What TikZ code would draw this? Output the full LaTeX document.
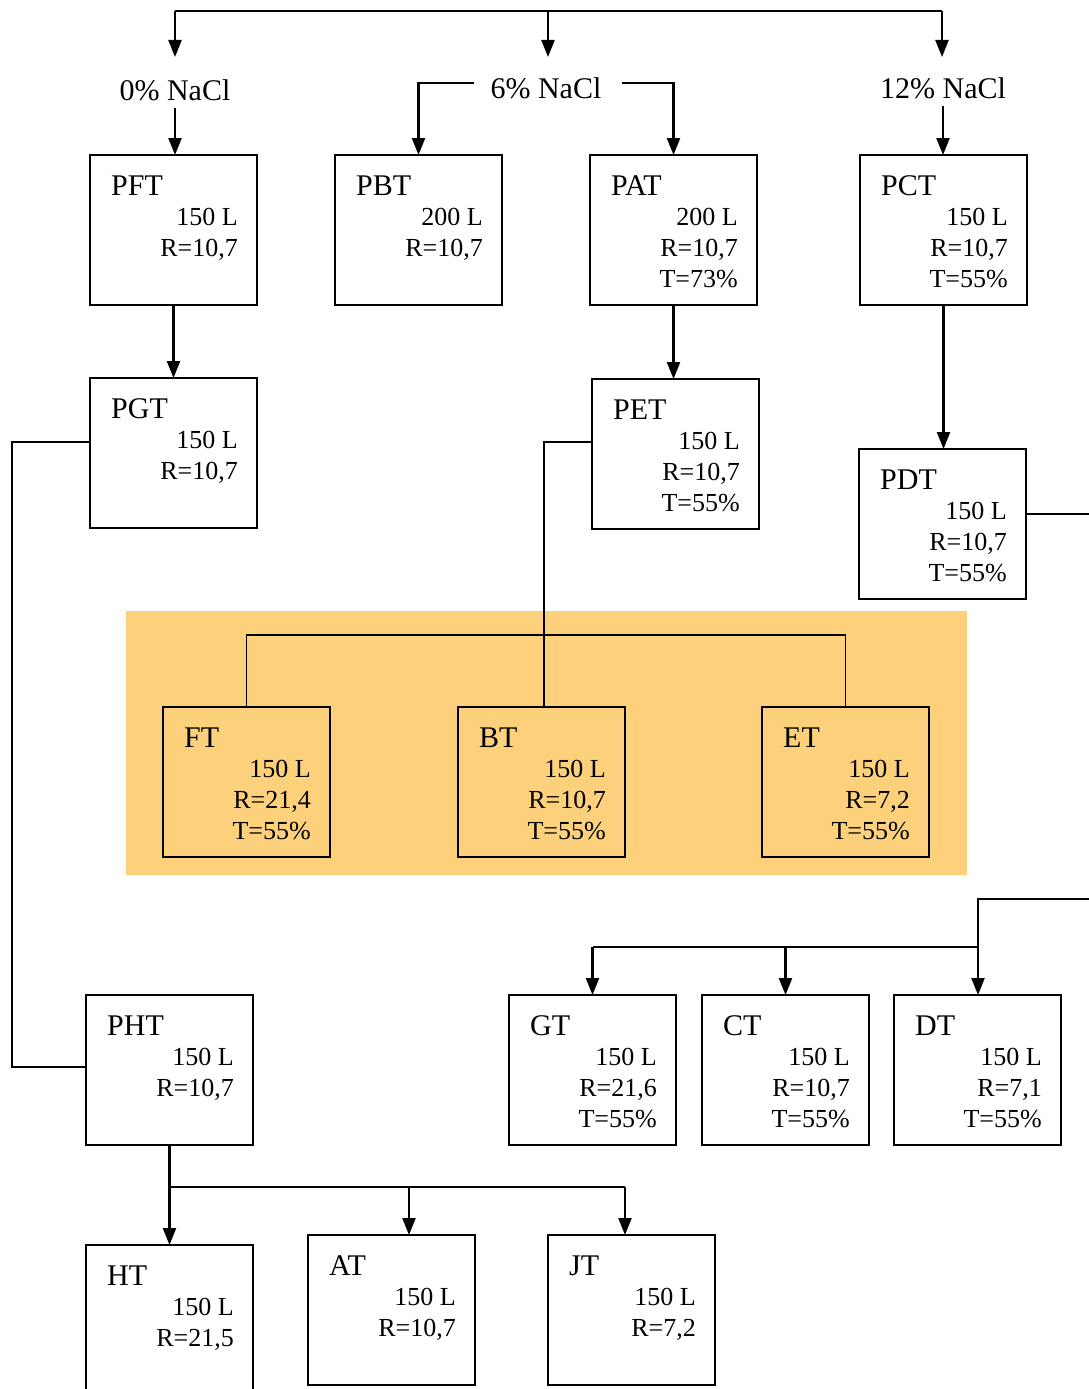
\documentclass[tikz,border=0pt]{standalone}
\usepackage{fontspec}
\setmainfont{Liberation Serif}
\usetikzlibrary{arrows.meta,calc}
\definecolor{orangebg}{RGB}{253,208,124}
\newcommand\boxtwo[6]{%
  \node[box] (#1) at (#2+83.5,#3+75) {};
  \node[ttl] (#1-t) at (#2+21,#3+40) {#4};
  \node[val] (#1-a) at (#2+148,#3+70) {#5};
  \node[val] (#1-b) at (#2+148,#3+101) {#6};
}
\newcommand\boxthree[7]{%
  \boxtwo{#1}{#2}{#3}{#4}{#5}{#6}%
  \node[val] (#1-c) at (#2+148,#3+132) {#7};
}
\begin{document}
\begin{tikzpicture}[x=1pt,y=-1pt,
  box/.style={draw,line width=2pt,minimum width=167pt,minimum height=150pt,inner sep=0pt,outer sep=0pt},
  ttl/.style={font=\fontsize{30}{30}\selectfont,inner sep=0pt,anchor=base west},
  val/.style={font=\fontsize{26}{26}\selectfont,inner sep=0pt,anchor=base east},
  lbl/.style={font=\fontsize{30}{30}\selectfont,inner sep=0pt},
  conn/.style={line width=2.3pt},
  arr/.style={conn,-{Triangle[length=17pt,width=13pt]}},
]
\useasboundingbox (0,0) rectangle (1089,1389);
\clip (0,0) rectangle (1089,1389);
\fill[orangebg] (126,611) rectangle (967,875);

\boxtwo{PFT}{90}{155}{PFT}{150 L}{R=10,7}
\boxtwo{PBT}{335}{155}{PBT}{200 L}{R=10,7}
\boxthree{PAT}{590}{155}{PAT}{200 L}{R=10,7}{T=73\%}
\boxthree{PCT}{860}{155}{PCT}{150 L}{R=10,7}{T=55\%}
\boxtwo{PGT}{90}{378}{PGT}{150 L}{R=10,7}
\boxthree{PET}{592}{379}{PET}{150 L}{R=10,7}{T=55\%}
\boxthree{PDT}{859}{449}{PDT}{150 L}{R=10,7}{T=55\%}
\boxthree{FT}{163}{707}{FT}{150 L}{R=21,4}{T=55\%}
\boxthree{BT}{458}{707}{BT}{150 L}{R=10,7}{T=55\%}
\boxthree{ET}{762}{707}{ET}{150 L}{R=7,2}{T=55\%}
\boxthree{GT}{509}{995}{GT}{150 L}{R=21,6}{T=55\%}
\boxthree{CT}{702}{995}{CT}{150 L}{R=10,7}{T=55\%}
\boxthree{DT}{894}{995}{DT}{150 L}{R=7,1}{T=55\%}
\boxtwo{PHT}{86}{995}{PHT}{150 L}{R=10,7}
\boxtwo{HT}{86}{1245}{HT}{150 L}{R=21,5}
\boxtwo{AT}{308}{1235}{AT}{150 L}{R=10,7}
\boxtwo{JT}{548}{1235}{JT}{150 L}{R=7,2}

% salt labels
\node[lbl] (n0) at (175,90) {0\% NaCl};
\node[lbl] (n6) at (546,88) {6\% NaCl};
\node[lbl] (n12) at (943,88) {12\% NaCl};

% top distribution
\coordinate (top0) at (175,11);
\coordinate (top6) at (548,11);
\coordinate (top12) at (942,11);
\coordinate (a0) at (175,57);
\coordinate (a6) at (548,57);
\coordinate (a12) at (942,57);
\draw[conn] (top0) -- (top12);
\draw[arr] (top0) -- (a0);
\draw[arr] (top6) -- (a6);
\draw[arr] (top12) -- (a12);

\draw[arr] ($(n0.south)+(0,7)$) -- (n0.south |- PFT.north);
\draw[arr] ($(n6.west)+(-16,-5)$) -| (PBT.north);
\draw[arr] ($(n6.east)+(20,-5)$) -| (PAT.north);
\draw[arr] ($(n12.south)+(0,7)$) -- (n12.south |- PCT.north);

\draw[arr] (PFT.south) -- (PGT.north);
\draw[arr] (PAT.south) -- (PAT.south |- PET.north);
\draw[arr] (PCT.south) -- (PCT.south |- PDT.north);

% PGT -> PHT
\coordinate (gl) at (12,442);
\draw[line width=1.6pt] (gl -| PGT.west) -- (gl) |- ($(PHT.west)+(0,-3)$);

% PET -> FT, BT, ET
\coordinate (el) at (544,442);
\coordinate (hb) at (544,635);
\draw[line width=1.6pt] (el -| PET.west) -- (el) -- (el |- BT.north);
\draw[line width=1.6pt] (FT.north) |- (hb) -| (ET.north);

% PDT -> GT, CT, DT
\coordinate (edgeR) at (1095,514);
\draw[line width=1.6pt] (PDT.east |- edgeR) -- (edgeR);
\coordinate (edgeR2) at (1095,899);
\coordinate (dj) at (978,947);
\draw[conn] (edgeR2) -| (dj);
\draw[arr] (dj) -- (dj |- DT.north);
\draw[conn] (dj) -- (dj -| GT.north);
\draw[arr] (dj -| GT.north) -- (GT.north);
\draw[arr] (dj -| CT.north) -- (CT.north);

% PHT -> HT, AT, JT
\coordinate (hj) at (170,1187);
\coordinate (ja) at (409,1187);
\coordinate (jj) at (625,1187);
\draw[arr] (PHT.south) -- (HT.north);
\draw[conn] (PHT.south |- hj) -- (jj);
\draw[arr] (ja) -- (ja |- AT.north);
\draw[arr] (jj) -- (jj |- JT.north);
\end{tikzpicture}
\end{document}
